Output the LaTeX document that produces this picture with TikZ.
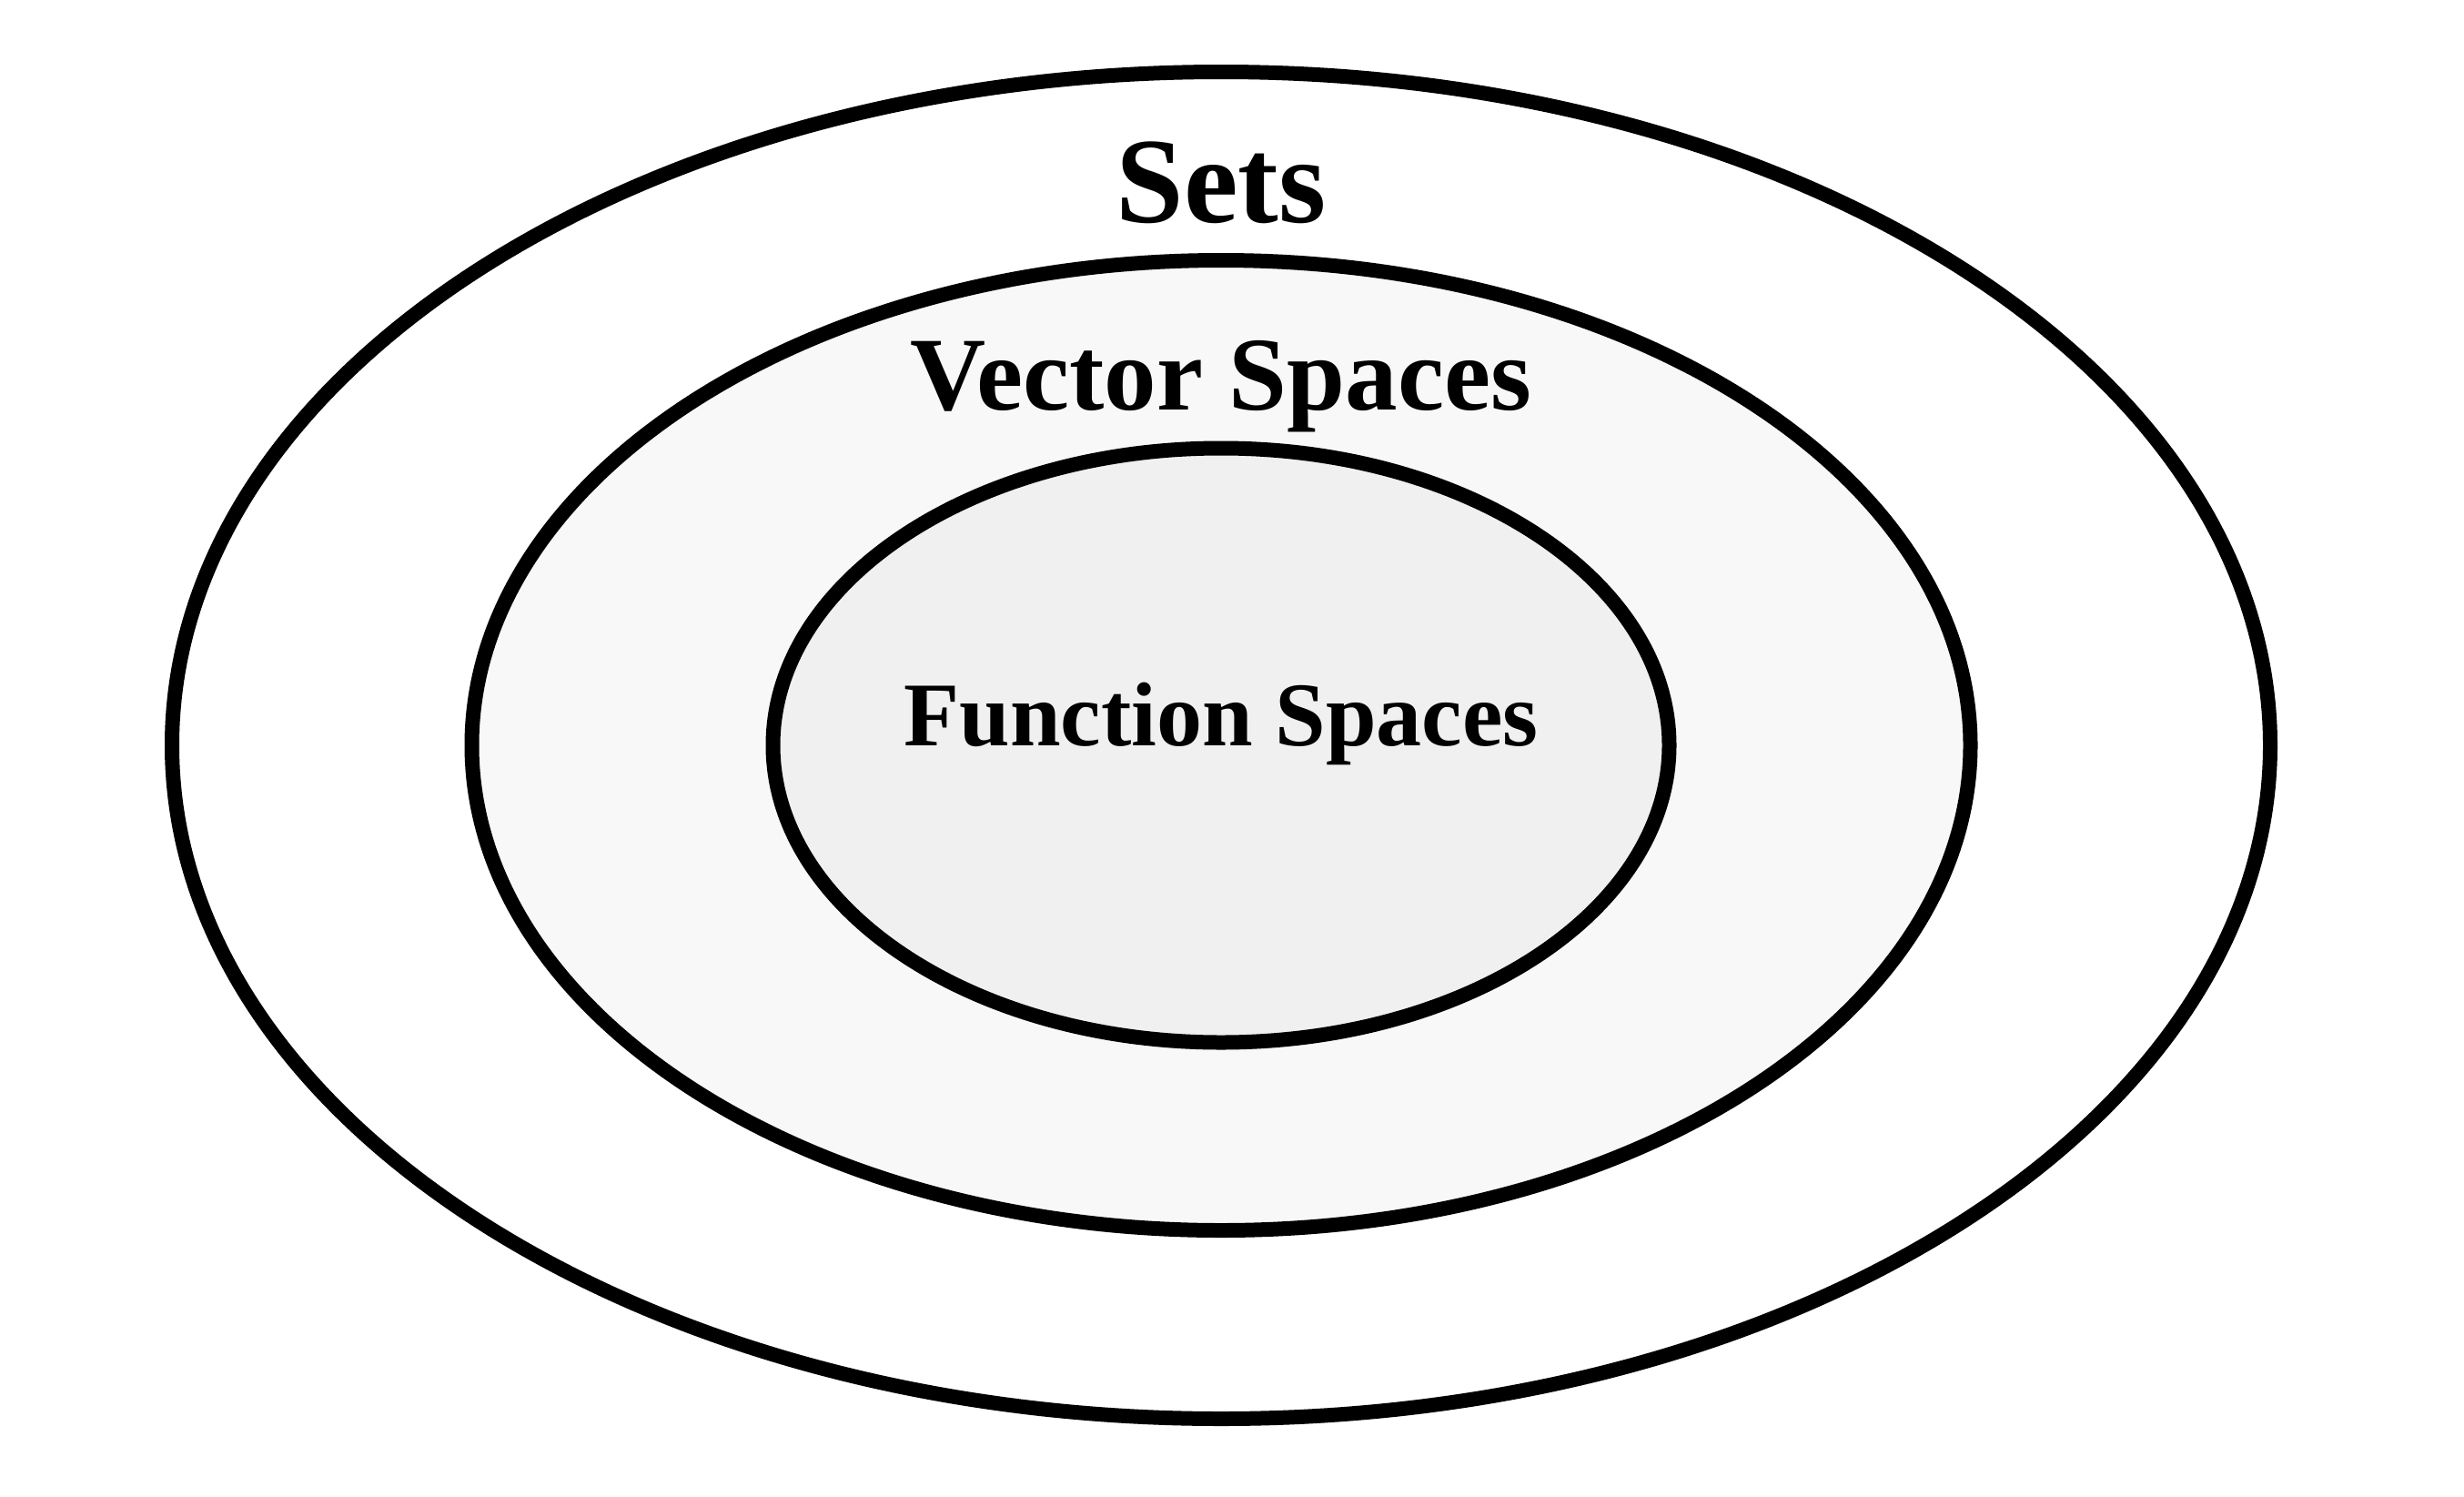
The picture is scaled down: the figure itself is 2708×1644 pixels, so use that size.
\documentclass[tikz,border=0pt]{standalone}
\usepackage{fontspec}
\setmainfont{Liberation Serif}
\usetikzlibrary{shapes.geometric}
\definecolor{midfill}{HTML}{F8F8F8}
\definecolor{innerfill}{HTML}{F0F0F0}
\tikzset{
  setoval/.style={ellipse, draw=black, line width=16pt, inner sep=0pt, outer sep=0pt},
  setlabel/.style={anchor=base, inner sep=0pt, font=\bfseries}
}
\begin{document}
\begin{tikzpicture}[x=1pt,y=-1pt]
\fill[white] (0,0) rectangle (2708,1644);
\useasboundingbox (0,0) rectangle (2708,1644);
\node[setoval, fill=white, minimum width=2306pt, minimum height=1480pt] (sets) at (1342,819) {};
\node[setoval, fill=midfill, minimum width=1647pt, minimum height=1066pt] (vector) at (1342,819) {};
\node[setoval, fill=innerfill, minimum width=985pt, minimum height=653pt] (function) at (1342,819) {};
\node[setlabel] (setstext) at (1342,244) {\fontsize{134}{134}\selectfont Sets};
\node[setlabel] (vectortext) at (1342,450) {\fontsize{115}{115}\selectfont Vector Spaces};
\node[setlabel] (functiontext) at (1342,819) {\fontsize{100}{100}\selectfont Function Spaces};
\end{tikzpicture}
\end{document}
